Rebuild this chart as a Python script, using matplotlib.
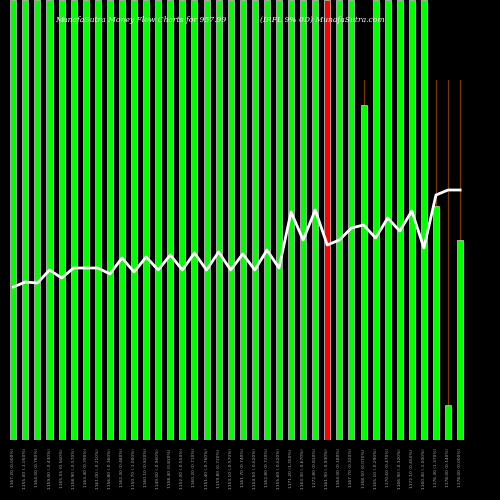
import matplotlib
matplotlib.use("Agg")
import matplotlib.pyplot as plt

# bar heights in pixel-ish units above baseline (440 = full)
bar_heights = [440] * 38
bar_heights[29] = 335
bar_heights[35] = 234
bar_heights[36] = 35
bar_heights[37] = 200
red_bars = {26}
wick_bars = [29, 35, 36, 37]
wick_top = 360

line_vals = [153, 158, 157, 170, 162, 172, 172, 172, 166, 182, 168, 183, 170, 185, 170, 187,
             170, 188, 170, 186, 170, 190, 172, 228, 200, 230, 195, 200, 212, 215, 202, 222,
             209, 229, 192, 245, 250, 250]

prices = [1167.20, 1155.00, 1164.00, 1159.00, 1165.55, 1158.90, 1163.40, 1161.00, 1156.80, 1162.30,
          1150.70, 1160.10, 1149.00, 1158.40, 1152.00, 1160.20, 1151.40, 1159.80, 1153.10, 1161.70,
          1154.50, 1162.80, 1155.60, 1171.20, 1163.30, 1172.80, 1161.90, 1164.00, 1167.70, 1168.50,
          1165.10, 1170.60, 1166.90, 1172.10, 1160.40, 1176.30, 1178.00, 1178.00]
changes = [0.00, -1.05, 0.78, -0.43, 0.56, -0.57, 0.39, -0.21, -0.36, 0.48,
           -1.00, 0.82, -0.96, 0.82, -0.55, 0.71, -0.76, 0.72, -0.57, 0.74,
           -0.62, 0.72, -0.62, 1.35, -0.67, 0.81, -0.93, 0.18, 0.32, 0.07,
           -0.29, 0.47, -0.32, 0.45, -1.00, 1.37, 0.14, 0.00]
labels = [f"{p:.2f} ({c:.3f}%)" for p, c in zip(prices, changes)]

fig = plt.figure(figsize=(5, 5), dpi=100, facecolor="black")
ax = fig.add_axes([0, 0.12, 1, 0.88], facecolor="black")
x = list(range(len(bar_heights)))
for i in wick_bars:
    ax.plot([i, i], [bar_heights[i], wick_top], color="#7a3a00", lw=0.9, zorder=1)
colors = ["#ff0000" if i in red_bars else "#00ff00" for i in x]
ax.bar(x, bar_heights, width=0.5, color=colors, edgecolor="#bbbbbb", linewidth=0.6, zorder=2)
ax.plot(x, line_vals, color="white", lw=2, zorder=3)
ax.set_xlim(-1.1, 40.3)
ax.set_ylim(0, 440)
ax.set_xticks(x)
ax.set_xticklabels(labels, rotation=90, fontsize=3.2, color="#aaaaaa")
ax.tick_params(axis="x", length=0, pad=6)
ax.set_yticks([])
for s in ax.spines.values():
    s.set_visible(False)

fig.text(0.11, 0.96, "MunafaSutra Money Flow Charts for 957.99", color="white",
         fontsize=5.5, family="DejaVu Serif", style="italic", va="center")
fig.text(0.52, 0.96, "(IRFL 9% 0D) MunafaSutra.com", color="white",
         fontsize=5.5, family="DejaVu Serif", style="italic", va="center")
fig.savefig("out.png", dpi=100, facecolor="black")
